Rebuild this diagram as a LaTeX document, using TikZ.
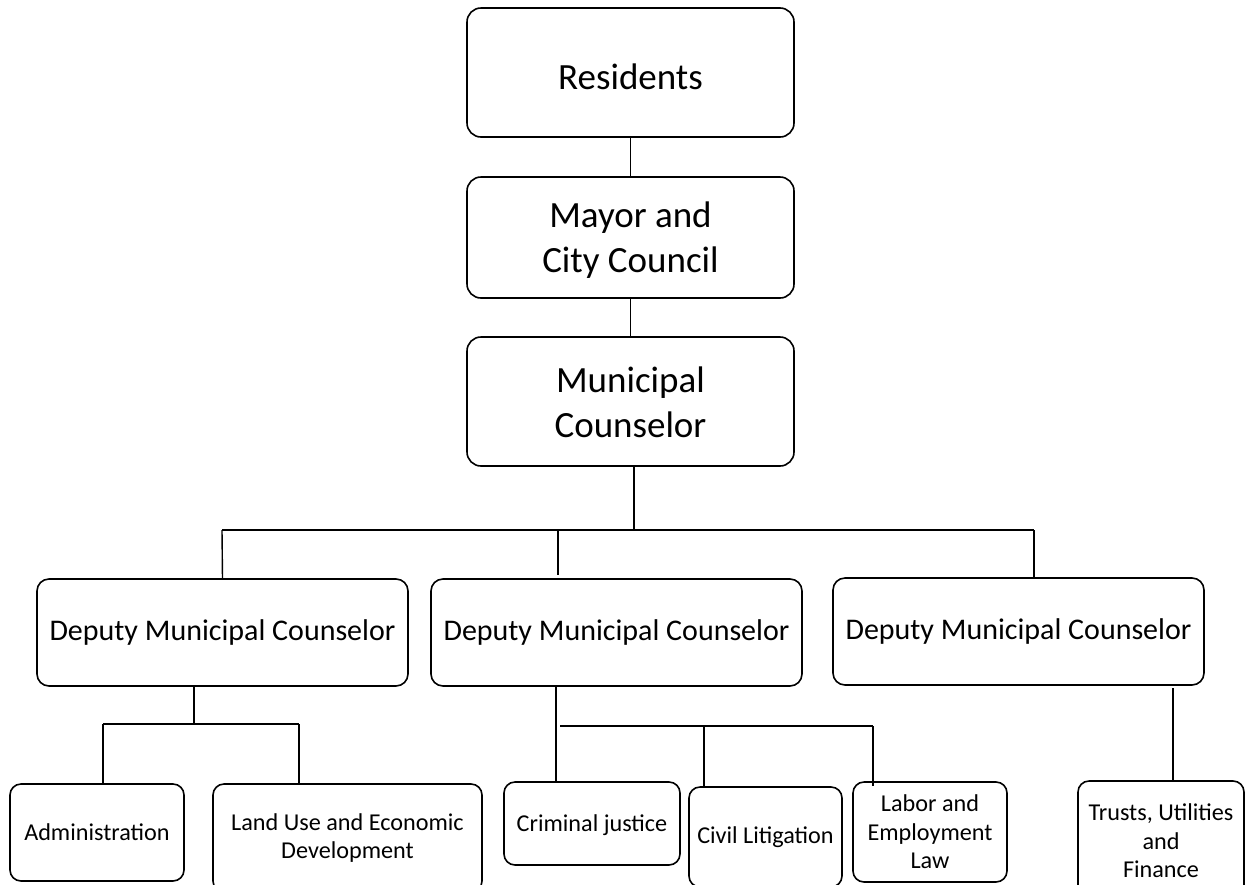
\documentclass[tikz,border=0pt]{standalone}
\usepackage{fontspec}
\setmainfont{Carlito}
\begin{document}
\begin{tikzpicture}[x=1pt,y=-1pt,
  box/.style={draw=black, line width=1.6pt, rounded corners=14pt, inner sep=0pt, outer sep=0pt, align=center, fill=white},
  bigtext/.style={inner sep=0pt, align=center, font=\fontsize{37}{45}\selectfont},
  mid/.style={box, rounded corners=12pt, font=\fontsize{30}{36}\selectfont},
  small/.style={box, rounded corners=11pt, font=\fontsize{24.2}{28.5}\selectfont},
  conn/.style={draw=black, line width=1.4pt}]
\clip (0,0) rectangle (1247,884);
\fill[white] (0,0) rectangle (1247,884);
% top chain
\node[box, minimum width=327pt, minimum height=129pt] (res) at (630.5,72.5) {};
\node[bigtext] (rest) at ([yshift=-4pt]res.center) {Residents};
\node[box, minimum width=327pt, minimum height=121pt] (mayor) at (630.5,237.5) {};
\node[bigtext] (mayort) at ([yshift=-3pt]mayor.center) {Mayor and\\City Council};
\node[box, minimum width=327pt, minimum height=129pt] (mun) at (630.5,401.5) {};
\node[bigtext] (munt) at ([yshift=-1pt]mun.center) {Municipal\\Counselor};
% deputies
\node[mid, minimum width=371pt, minimum height=107pt] (d1) at (222.5,632.5) {Deputy Municipal Counselor};
\node[mid, minimum width=371pt, minimum height=107pt] (d2) at (616.5,632.5) {Deputy Municipal Counselor};
\node[mid, minimum width=371pt, minimum height=107pt] (d3) at (1018.5,631.5) {Deputy Municipal Counselor};
% bottom
\node[small, minimum width=174pt, minimum height=97pt] (adm) at (97,832.5) {Administration};
\node[small, minimum width=269pt, minimum height=108pt] (land) at (347.5,838) {Land Use and Economic\\Development};
\node[small, minimum width=176pt, minimum height=83pt, text depth=0pt] (crim) at (592,823.5) {Criminal justice};
\node[small, minimum width=153pt, minimum height=100pt] (civ) at (765.5,837) {Civil Litigation};
\node[small, minimum width=154pt, minimum height=100pt] (lab) at (930,832) {Labor and\\Employment\\Law};
\node[small, minimum width=166pt, minimum height=120pt] (tru) at (1161,841) {Trusts, Utilities\\and\\Finance};
% connectors top
\draw[conn] (res) -- (mayor);
\draw[conn] (mayor) -- (mun);
\coordinate (busL) at (222,530);
\coordinate (busR) at (1034,530);
\coordinate (busM) at (558,530);
\coordinate (busMe) at (558,575);
\coordinate (busC) at (634,530);
\draw[conn] (mun.south -| busC) -- (busC);
\draw[conn] (busL) -- (busR);
\draw[conn] (busL) -- (d1.north);
\draw[conn] (busM) -- (busMe);
\draw[conn] (busR) -- (busR |- d3.north);
% left sub-tree
\coordinate (l1) at (194,724);
\coordinate (l2) at (103,724);
\coordinate (l3) at (299,724);
\draw[conn] (d1.south -| l1) -- (l1);
\draw[conn] (l2) -- (l3);
\draw[conn] (l2) -- (l2 |- adm.north);
\draw[conn] (l3) -- (l3 |- land.north);
% middle sub-tree
\coordinate (m0) at (556,686);
\coordinate (m1) at (560,726);
\coordinate (m2) at (704,726);
\coordinate (m3) at (873,726);
\coordinate (m3e) at (873,786);
\draw[conn] (d2.south -| m0) -- (m0 |- crim.north);
\draw[conn] (m1) -- (m3);
\draw[conn] (m2) -- (m2 |- civ.north);
\draw[conn] (m3) -- (m3e);
% right sub-tree
\coordinate (r1) at (1173,688);
\draw[conn] (r1) -- (r1 |- tru.north);
\end{tikzpicture}
\end{document}
